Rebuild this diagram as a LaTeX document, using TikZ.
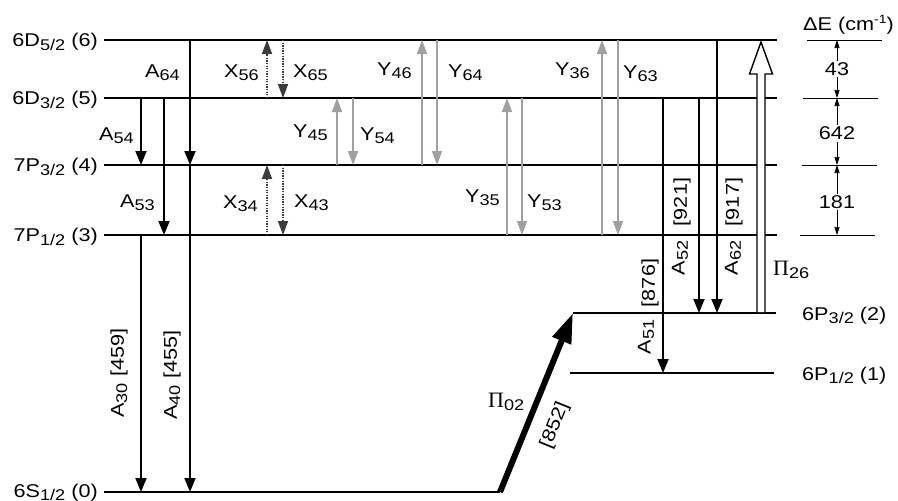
\documentclass[tikz,border=0pt]{standalone}
\usepackage{fontspec}
\setmainfont{Liberation Sans}[FakeStretch=1.17]
\newfontfamily\pifont{Liberation Serif}
\usetikzlibrary{arrows.meta}
\newcommand\lo[1]{\raisebox{-3.3pt}{\fontsize{15.5}{16}\selectfont #1}}
\newcommand\hi[1]{\raisebox{6.5pt}{\fontsize{12}{12}\selectfont #1}}
\newcommand\PiS{{\pifont\fontsize{22}{24}\selectfont Π}}
\definecolor{ygray}{HTML}{A0A0A0}
\definecolor{xgray}{HTML}{3C3C3C}
\begin{document}
\begin{tikzpicture}[x=1pt,y=-1pt,
  font=\fontsize{18.5}{20}\selectfont,
  level/.style={line width=2.7pt},
  thinlvl/.style={line width=0.8pt},
  blk/.style={line width=1.8pt,-{Triangle[length=14pt,width=11pt]}},
  yarr/.style={draw=ygray,fill=ygray,line width=1.6pt,-{Triangle[length=14pt,width=10pt]}},
  xarr/.style={draw=xgray,fill=xgray,line width=1.6pt,dash pattern=on 1.3pt off 1.3pt,-{Triangle[length=14pt,width=10pt]}},
  dim/.style={line width=0.7pt,-{Triangle[length=8pt,width=5pt]}},
  lbl/.style={anchor=base west,inner sep=0pt},
  llbl/.style={anchor=base east,inner sep=0pt},
  rlbl/.style={rotate=90,inner sep=0pt},
  num/.style={fill=white,inner sep=1.5pt}]
\useasboundingbox (0,0) rectangle (898,501);
% level coordinates
\coordinate (L6) at (104,40);  \coordinate (L6e) at (777,40);
\coordinate (L5) at (104,98);  \coordinate (L5e) at (777,98);
\coordinate (L4) at (104,165); \coordinate (L4e) at (777,165);
\coordinate (L3) at (104,235); \coordinate (L3e) at (777,235);
\coordinate (L2) at (573,313); \coordinate (L2e) at (776,313);
\coordinate (L1) at (570,373); \coordinate (L1e) at (774,373);
\coordinate (L0) at (104,492); \coordinate (L0e) at (500,492);
% levels
\foreach \a/\b in {L6/L6e,L5/L5e,L4/L4e,L3/L3e,L2/L2e,L1/L1e,L0/L0e}
  \draw[level] (\a) -- (\b);
% level labels
\node[llbl] (n6) at (98,46.7) {6D\lo{5/2} (6)};
\node[llbl] (n5) at (98,104.7) {6D\lo{3/2} (5)};
\node[llbl] (n4) at (98,171.7) {7P\lo{3/2} (4)};
\node[llbl] (n3) at (98,241.7) {7P\lo{1/2} (3)};
\node[llbl] (n0) at (98,497) {6S\lo{1/2} (0)};
\node[lbl] (n2) at (802,320) {6P\lo{3/2} (2)};
\node[lbl] (n1) at (802,380) {6P\lo{1/2} (1)};
% black spontaneous decays
\draw[blk] (141,0|-L5) -- (141,0|-L4);
\draw[blk] (164,0|-L5) -- (164,0|-L3);
\draw[blk] (190,0|-L6) -- (190,0|-L4);
\draw[blk] (190,0|-L4) -- (190,0|-L0);
\draw[blk] (141,0|-L3) -- (141,0|-L0);
\draw[blk] (663,0|-L5) -- (663,0|-L1);
\draw[blk] (699,0|-L5) -- (699,0|-L2);
\draw[blk] (717,0|-L6) -- (717,0|-L2);
% X (dotted)
\draw[xarr] (267,0|-L5) -- (267,0|-L6);
\draw[xarr] (283,0|-L6) -- (283,0|-L5);
\draw[xarr] (267,0|-L3) -- (267,0|-L4);
\draw[xarr] (283,0|-L4) -- (283,0|-L3);
% Y (gray)
\draw[yarr] (337,0|-L4) -- (337,0|-L5);
\draw[yarr] (353,0|-L5) -- (353,0|-L4);
\draw[yarr] (422,0|-L4) -- (422,0|-L6);
\draw[yarr] (437,0|-L6) -- (437,0|-L4);
\draw[yarr] (507,0|-L3) -- (507,0|-L5);
\draw[yarr] (522,0|-L5) -- (522,0|-L3);
\draw[yarr] (602,0|-L3) -- (602,0|-L6);
\draw[yarr] (618,0|-L6) -- (618,0|-L3);
% pump Pi26 (open arrow)
\draw[line width=1.4pt,fill=white] (757,312) -- (757,74) -- (749.5,74) -- (761,42)
  -- (772.5,74) -- (765,74) -- (765,312);
% pump Pi02 (thick arrow)
\draw[line width=6pt,-{Triangle[length=30pt,width=19pt]}] (L0e) -- (L2);
% transition labels
\node[lbl] (tA64) at (145,77) {A\lo{64}};
\node[lbl] (tA54) at (99,140) {A\lo{54}};
\node[lbl] (tA53) at (120,207) {A\lo{53}};
\node[lbl] (tX56) at (224,77) {X\lo{56}};
\node[lbl] (tX65) at (293,77) {X\lo{65}};
\node[lbl] (tX34) at (223,208) {X\lo{34}};
\node[lbl] (tX43) at (294,207) {X\lo{43}};
\node[lbl] (tY46) at (377,75) {Y\lo{46}};
\node[lbl] (tY64) at (448,77) {Y\lo{64}};
\node[lbl] (tY36) at (555,75) {Y\lo{36}};
\node[lbl] (tY63) at (623,78) {Y\lo{63}};
\node[lbl] (tY45) at (293,137) {Y\lo{45}};
\node[lbl] (tY54) at (360,140) {Y\lo{54}};
\node[lbl] (tY35) at (465,202) {Y\lo{35}};
\node[lbl] (tY53) at (527,207) {Y\lo{53}};
\node[rlbl] (tA30) at (119,373) {A\lo{30}\hspace{7pt}[459]};
\node[rlbl] (tA40) at (172,375) {A\lo{40}\hspace{7pt}[455]};
\node[rlbl] (w876) at (650,283) {[876]};
\node[rlbl] (tA51) at (646,337) {A\lo{51}};
\node[rlbl] (w921) at (682,202) {[921]};
\node[rlbl] (tA52) at (680,258) {A\lo{52}};
\node[rlbl] (w917) at (734,202) {[917]};
\node[rlbl] (tA62) at (733,258) {A\lo{62}};
\node[lbl] (tP26) at (773,275) {\PiS\lo{26}};
\node[lbl] (tP02) at (488,407) {\PiS\lo{02}};
\node[rotate=68,inner sep=0pt] (w852) at (555,425) {[852]};
% energy spacing column
\node[lbl] (dE) at (803,30) {ΔE (cm\hi{-1})};
\coordinate (D6) at (807,40);  \coordinate (D6e) at (882,40);
\coordinate (D5) at (803,98);  \coordinate (D5e) at (878,98);
\coordinate (D4) at (802,165); \coordinate (D4e) at (877,165);
\coordinate (D3) at (800,235); \coordinate (D3e) at (875,235);
\foreach \a/\b in {D6/D6e,D5/D5e,D4/D4e,D3/D3e}
  \draw[thinlvl] (\a) -- (\b);
\node[num] (d43) at (837,69) {43};
\node[num] (d642) at (837,133.5) {642};
\node[num] (d181) at (837,202) {181};
\draw[dim] (d43.north) -- (d43.north|-D6);
\draw[dim] (d43.south) -- (d43.south|-D5);
\draw[dim] (d642.north) -- (d642.north|-D5);
\draw[dim] (d642.south) -- (d642.south|-D4);
\draw[dim] (d181.north) -- (d181.north|-D4);
\draw[dim] (d181.south) -- (d181.south|-D3);
\end{tikzpicture}
\end{document}
